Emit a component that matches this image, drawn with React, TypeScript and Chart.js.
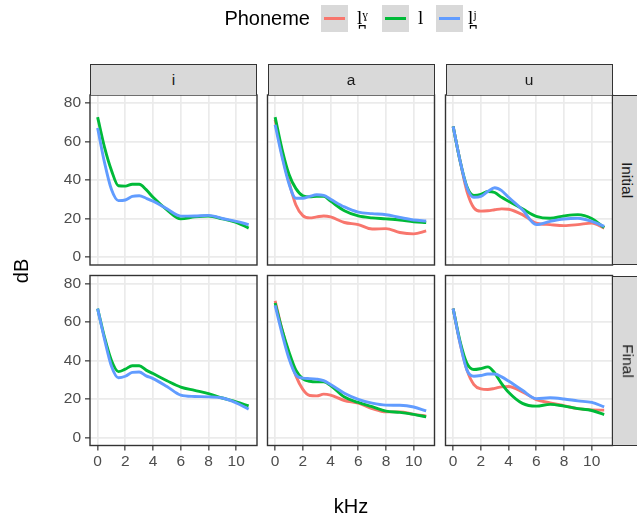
import React, { useEffect, useRef } from 'react';
import { Chart, registerables } from 'chart.js';
Chart.register(...registerables);

// ---------- data ----------
const kHz = [0, 0.5, 1, 1.5, 2, 2.5, 3, 3.5, 4, 5, 6, 7, 8, 9, 10, 10.9];
const xTicks = [0, 2, 4, 6, 8, 10];
const yTicks = [0, 20, 40, 60, 80];
const vowels = ['i', 'a', 'u'];
const positions = ['Initial', 'Final'];
const phonemes = ['l\u032A\u02E0', 'l', 'l\u032A\u02B2'];
const colors = ['#F8766D', '#00BA38', '#619CFF'];

// i, Initial
const iInitialPlain = [72.7, 57, 45, 37, 36.8, 37.8, 37.8, 35, 31, 24.5, 19.8, 20.8, 21.3, 19.8, 18, 15];
const iInitialPal = [67, 49, 35, 29.3, 29.6, 31.5, 31.8, 30.5, 29, 25, 21.2, 21.3, 21.6, 20, 18.5, 16.8];
// a, Initial
const aInitialVel = [71.3, 53, 39, 27, 21.5, 20.3, 20.8, 21.3, 20.8, 17.9, 16.8, 14.5, 14.7, 12.7, 12, 13.5];
const aInitialPlain = [72.7, 56, 43, 35.5, 31.8, 31.2, 31.5, 31.5, 29, 24, 21.3, 20.3, 19.8, 19.2, 18.3, 17.9];
const aInitialPal = [68.7, 52, 38, 30.5, 30.5, 31.5, 32.3, 32, 30, 26, 23.3, 22.5, 21.9, 20.5, 19.2, 18.7];
// u, Initial
const uInitialVel = [67.9, 50, 34, 25.5, 23.8, 24, 24.5, 25, 24.8, 22, 17.6, 16.8, 16.3, 16.8, 17.6, 15];
const uInitialPlain = [67.9, 50, 36.5, 32, 32.5, 34, 33.5, 31, 29, 25, 21.1, 20.1, 21.3, 22, 20, 15.3];
const uInitialPal = [67.9, 50, 36, 31, 31.5, 34, 36, 34.5, 31, 24.5, 16.8, 18.5, 19.7, 20.1, 18.5, 15.9];
// i, Final
const iFinalPlain = [67, 52, 40, 34.2, 35.5, 37.3, 37.3, 35, 33.2, 29.5, 26.2, 24.5, 22.8, 20.5, 18.5, 16.4];
const iFinalPal = [67, 51, 37, 31, 31.8, 33.8, 34, 32, 30.6, 26.5, 22, 21.3, 21.1, 20.5, 18, 14.7];
// a, Final
const aFinalVel = [71, 56, 43, 32, 25, 21.8, 21.6, 22.5, 22, 19.2, 17.8, 15, 13.3, 13.3, 12, 11.1];
const aFinalPlain = [69.9, 56, 44.5, 35, 30.5, 29.2, 28.9, 28.9, 27, 21, 18.2, 16, 13.7, 13, 12, 10.7];
const aFinalPal = [68.7, 54, 41, 32.5, 30.8, 30.6, 30.3, 29.5, 27.5, 23, 19.8, 17.8, 16.8, 16.7, 15.8, 13.8];
// u, Final
const uFinalVel = [67, 49, 35, 27.5, 25.2, 24.9, 25.5, 26.3, 26.5, 23.7, 19.7, 18, 16.5, 15, 14.3, 14.2];
const uFinalPlain = [67, 50, 38.5, 35.3, 35.8, 36.7, 33.5, 28, 23.5, 17.7, 16.3, 17.2, 16.3, 15, 14, 11.9];
const uFinalPal = [67, 49, 35, 31.8, 32.2, 33, 33, 31.5, 29.3, 24.5, 20.2, 20.6, 20, 19, 18.2, 15.9];

const panelSeries: (number[] | null)[][][] = [
  [
    [null, iInitialPlain, iInitialPal],
    [aInitialVel, aInitialPlain, aInitialPal],
    [uInitialVel, uInitialPlain, uInitialPal],
  ],
  [
    [null, iFinalPlain, iFinalPal],
    [aFinalVel, aFinalPlain, aFinalPal],
    [uFinalVel, uFinalPlain, uFinalPal],
  ],
];

// ---------- layout ----------
const W = 637;
const H = 519;
const colLeft = [90, 267.5, 445.5];
const panelW = 167;
const rowTop = [95, 275.5];
const panelH = 170;
const stripSize = 31;
const SANS = '"Liberation Sans", Arial, Helvetica, sans-serif';
const SERIF = '"Liberation Serif", "DejaVu Serif", "Times New Roman", serif';
const YAXIS_W = 50;
const XAXIS_H = 30;
const TICK_SIZE = 15.5;
const TITLE_SIZE = 20;

const boxPlugin = {
  id: 'panelBox',
  afterDraw(chart: any) {
    const { ctx, chartArea } = chart;
    ctx.save();
    ctx.strokeStyle = '#333333';
    ctx.lineWidth = 1.4;
    ctx.strokeRect(chartArea.left, chartArea.top, chartArea.right - chartArea.left, chartArea.bottom - chartArea.top);
    ctx.restore();
  },
};

function Panel({ row, col }: { row: number; col: number }) {
  const ref = useRef<HTMLCanvasElement>(null);
  useEffect(() => {
    const showY = col === 0;
    const showX = row === 1;
    const L = colLeft[col];
    const T = rowTop[row];
    const R = L + panelW;
    const B = T + panelH;
    const series = panelSeries[row][col];
    const datasets: any[] = [];
    series.forEach((vals, k) => {
      if (!vals) return;
      datasets.push({
        label: phonemes[k],
        data: kHz.map((x, i) => ({ x, y: vals[i] })),
        borderColor: colors[k],
        borderWidth: 2.9,
        pointRadius: 0,
        fill: false,
        cubicInterpolationMode: 'monotone',
        order: 2 - k,
      });
    });
    const tickFont = { family: SANS, size: TICK_SIZE };
    const chart = new Chart(ref.current!, {
      type: 'line',
      data: { datasets },
      plugins: [boxPlugin],
      options: {
        responsive: false,
        maintainAspectRatio: false,
        animation: false,
        events: [],
        layout: {
          autoPadding: false,
          padding: {
            left: L - (showY ? YAXIS_W : 0),
            top: T,
            right: W - R,
            bottom: H - B - (showX ? XAXIS_H : 0),
          },
        },
        plugins: { legend: { display: false }, tooltip: { enabled: false } },
        scales: {
          x: {
            type: 'linear',
            min: -0.55,
            max: 11.5,
            afterBuildTicks: (s: any) => {
              s.ticks = xTicks.map((v) => ({ value: v }));
            },
            afterFit: (s: any) => {
              s.height = showX ? XAXIS_H : 0;
            },
            ticks: { display: showX, color: '#4D4D4D', font: tickFont, padding: 2, maxRotation: 0, autoSkip: false },
            grid: {
              color: '#EBEBEB',
              lineWidth: 1.7,
              drawTicks: showX,
              tickColor: '#333333',
              tickLength: 5,
              tickWidth: 1.2,
            },
            border: { display: false },
          },
          y: {
            type: 'linear',
            min: -4.2,
            max: 84.2,
            afterBuildTicks: (s: any) => {
              s.ticks = yTicks.map((v) => ({ value: v }));
            },
            afterFit: (s: any) => {
              s.width = showY ? YAXIS_W : 0;
            },
            ticks: { display: showY, color: '#4D4D4D', font: tickFont, padding: 4, autoSkip: false },
            grid: {
              color: '#EBEBEB',
              lineWidth: 1.7,
              drawTicks: showY,
              tickColor: '#333333',
              tickLength: 5,
              tickWidth: 1.2,
            },
            border: { display: false },
          },
        },
      } as any,
    });
    return () => chart.destroy();
  }, [row, col]);
  return (
    <canvas
      ref={ref}
      width={W}
      height={H}
      style={{ position: 'absolute', left: 0, top: 0, width: W, height: H }}
    />
  );
}

export default function App() {
  const legendKeys = [
    { box: 321, label: 357 },
    { box: 382, label: 418 },
    { box: 435.5, label: 468 },
  ];
  return (
    <div
      style={{
        position: 'absolute',
        left: 0,
        top: 0,
        width: W,
        height: H,
        overflow: 'hidden',
        background: '#FFFFFF',
        fontFamily: SANS,
      }}
    >
      {positions.map((_, r) => vowels.map((__, c) => <Panel key={`${r}-${c}`} row={r} col={c} />))}

      {/* top strips */}
      {vowels.map((v, c) => (
        <div
          key={v}
          style={{
            position: 'absolute',
            left: colLeft[c],
            top: rowTop[0] - stripSize,
            width: panelW,
            height: stripSize,
            boxSizing: 'border-box',
            background: '#D9D9D9',
            border: '1.4px solid #333333',
            borderBottom: 'none',
            color: '#1A1A1A',
            fontSize: TICK_SIZE,
            display: 'flex',
            alignItems: 'center',
            justifyContent: 'center',
          }}
        >
          {v}
        </div>
      ))}

      {/* right strips */}
      {positions.map((p, r) => (
        <div
          key={p}
          style={{
            position: 'absolute',
            left: colLeft[2] + panelW,
            top: rowTop[r],
            width: stripSize,
            height: panelH,
            boxSizing: 'border-box',
            background: '#D9D9D9',
            border: '1.4px solid #333333',
            borderLeft: 'none',
            color: '#1A1A1A',
            fontSize: TICK_SIZE,
            display: 'flex',
            alignItems: 'center',
            justifyContent: 'center',
          }}
        >
          <span style={{ display: 'inline-block', transform: 'rotate(90deg)', whiteSpace: 'nowrap' }}>{p}</span>
        </div>
      ))}

      {/* axis titles */}
      <div
        style={{
          position: 'absolute',
          left: 21 - 30,
          top: 271 - 13,
          width: 60,
          height: 26,
          lineHeight: '26px',
          textAlign: 'center',
          fontSize: TITLE_SIZE,
          color: '#000',
          transform: 'rotate(-90deg)',
        }}
      >
        dB
      </div>
      <div
        style={{
          position: 'absolute',
          left: 351 - 40,
          top: 506 - 13,
          width: 80,
          height: 26,
          lineHeight: '26px',
          textAlign: 'center',
          fontSize: TITLE_SIZE,
          color: '#000',
        }}
      >
        kHz
      </div>

      {/* legend */}
      <div
        style={{
          position: 'absolute',
          left: 170,
          top: 5,
          width: 140,
          height: 26,
          lineHeight: '26px',
          textAlign: 'right',
          fontSize: TITLE_SIZE,
          color: '#000',
        }}
      >
        Phoneme
      </div>
      {legendKeys.map((k, i) => (
        <React.Fragment key={i}>
          <div
            style={{
              position: 'absolute',
              left: k.box,
              top: 5,
              width: 27,
              height: 27,
              background: '#D9D9D9',
            }}
          >
            <div
              style={{
                position: 'absolute',
                left: 3,
                top: 12,
                width: 21,
                height: 3,
                background: colors[i],
              }}
            />
          </div>
          <div
            style={{
              position: 'absolute',
              left: k.label,
              top: 4,
              height: 28,
              lineHeight: '28px',
              fontFamily: SERIF,
              fontSize: 19,
              color: '#000',
              whiteSpace: 'nowrap',
            }}
          >
            {phonemes[i]}
          </div>
        </React.Fragment>
      ))}
    </div>
  );
}
